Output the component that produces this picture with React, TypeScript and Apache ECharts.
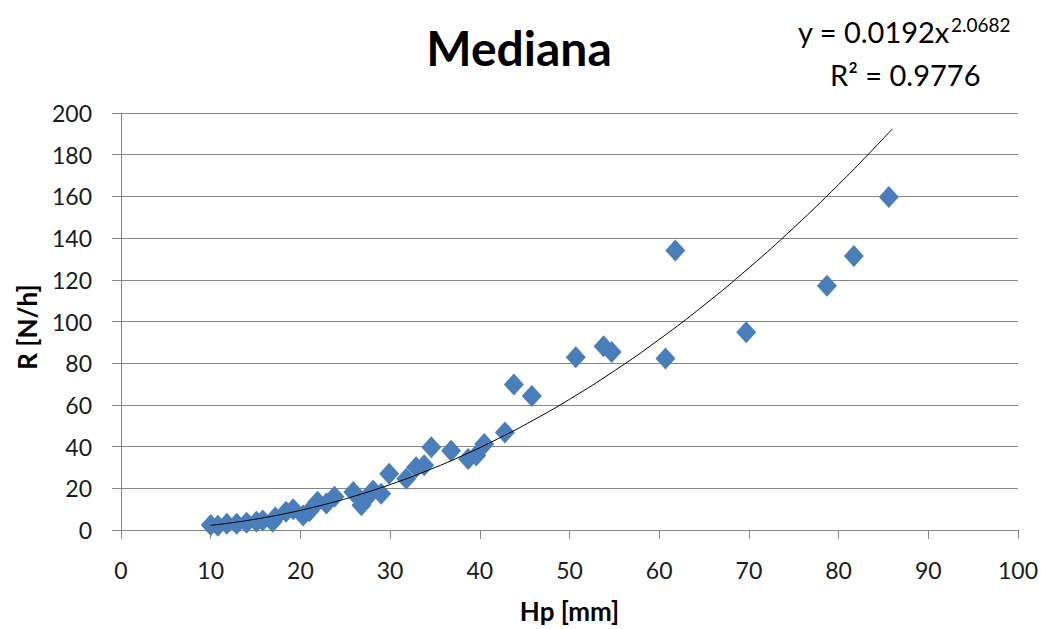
import React, { useEffect, useRef } from "react";
import * as echarts from "echarts";

const hp: number[] = [10, 10.8, 11.8, 12.9, 14, 15.1, 15.8, 16.9, 17.2, 18.4, 19.2, 20.3, 21, 21.9, 22.9, 23.8, 25.9, 26.8, 27.1, 28.1, 29, 29.9, 31.8, 32.9, 33.8, 34.6, 36.8, 38.7, 39.6, 40.5, 42.8, 43.8, 45.8, 50.7, 53.8, 54.7, 60.7, 61.8, 69.7, 78.7, 81.7, 85.6];
const rVals: number[] = [2.4, 2, 3, 3, 3.5, 4, 4.5, 4, 6, 8.7, 10, 7, 9, 13.5, 12.7, 15.9, 18.2, 11.9, 14, 19, 17.4, 27, 24.6, 30.1, 31, 39.7, 38, 34, 35.7, 41.2, 46.8, 69.8, 64.3, 82.9, 88.1, 85.4, 82.2, 134.1, 94.9, 117.1, 131.4, 159.7];

const trendA = 0.0192;
const trendB = 2.0682;
const trendX: number[] = [10, 12, 14, 16, 18, 20, 23, 26, 30, 34, 38, 42, 46, 50, 55, 60, 65, 70, 75, 80, 83, 86];

const xTicks = [0, 10, 20, 30, 40, 50, 60, 70, 80, 90, 100];
const yTicks = [0, 20, 40, 60, 80, 100, 120, 140, 160, 180, 200];

const FONT = "Lato, 'Open Sans', sans-serif";

export default function App() {
  const ref = useRef<HTMLDivElement>(null);
  useEffect(() => {
    if (!ref.current) return;
    const chart = echarts.init(ref.current, null, { renderer: "svg" });
    const pts = hp.map((x, i) => [x, rVals[i]]);
    const trend = trendX.map((x) => [x, trendA * Math.pow(x, trendB)]);
    chart.setOption({
      animation: false,
      backgroundColor: "#ffffff",
      textStyle: { fontFamily: FONT },
      graphic: [
        {
          type: "text",
          x: 519,
          y: 47,
          style: {
            text: "Mediana",
            font: `bold 48px ${FONT}`,
            fill: "#000",
            align: "center",
            verticalAlign: "middle",
          },
        },
        {
          type: "text",
          x: 798,
          y: 31,
          style: {
            text: "y = 0.0192x",
            font: `29px ${FONT}`,
            fill: "#000",
            align: "left",
            verticalAlign: "middle",
          },
        },
        {
          type: "text",
          x: 951,
          y: 24,
          style: {
            text: "2.0682",
            font: `19px ${FONT}`,
            fill: "#000",
            align: "left",
            verticalAlign: "middle",
          },
        },
        {
          type: "text",
          x: 830,
          y: 74,
          style: {
            text: "R² = 0.9776",
            font: `29px ${FONT}`,
            fill: "#000",
            align: "left",
            verticalAlign: "middle",
          },
        },
        {
          type: "text",
          x: 27,
          y: 327,
          rotation: Math.PI / 2,
          style: {
            text: "R [N/h]",
            font: `bold 26px ${FONT}`,
            fill: "#000",
            align: "center",
            verticalAlign: "middle",
          },
        },
      ],
      grid: { left: 121, right: 22, top: 113, bottom: 95 },
      xAxis: {
        type: "value",
        min: 0,
        max: 100,
        interval: 10,
        name: "Hp [mm]",
        nameLocation: "middle",
        nameGap: 68,
        nameTextStyle: { fontFamily: FONT, fontSize: 26, fontWeight: "bold", color: "#000" },
        axisLine: { show: true, lineStyle: { color: "#868686", width: 1 } },
        axisTick: { show: true, inside: false, length: 9, lineStyle: { color: "#868686" } },
        axisLabel: { fontFamily: FONT, fontSize: 23, color: "#1a1a1a", margin: 28 },
        splitLine: { show: false },
      },
      yAxis: {
        type: "value",
        min: 0,
        max: 200,
        interval: 20,
        axisLine: { show: true, lineStyle: { color: "#868686", width: 1 } },
        axisTick: { show: true, inside: false, length: 9, lineStyle: { color: "#868686" } },
        axisLabel: { fontFamily: FONT, fontSize: 23, color: "#1a1a1a", margin: 29 },
        splitLine: { show: true, lineStyle: { color: "#868686", width: 1 } },
      },
      series: [
        {
          type: "scatter",
          data: pts,
          symbol: "diamond",
          symbolSize: [20, 22],
          itemStyle: { color: "#4A7EBB", opacity: 1 },
          z: 3,
        },
        {
          type: "line",
          data: trend,
          smooth: true,
          showSymbol: false,
          symbol: "none",
          lineStyle: { color: "#000", width: 1 },
          z: 4,
        },
      ],
    });
    return () => chart.dispose();
  }, []);
  return <div ref={ref} style={{ width: 1041, height: 629, position: "absolute", left: 0, top: 0 }} />;
}
